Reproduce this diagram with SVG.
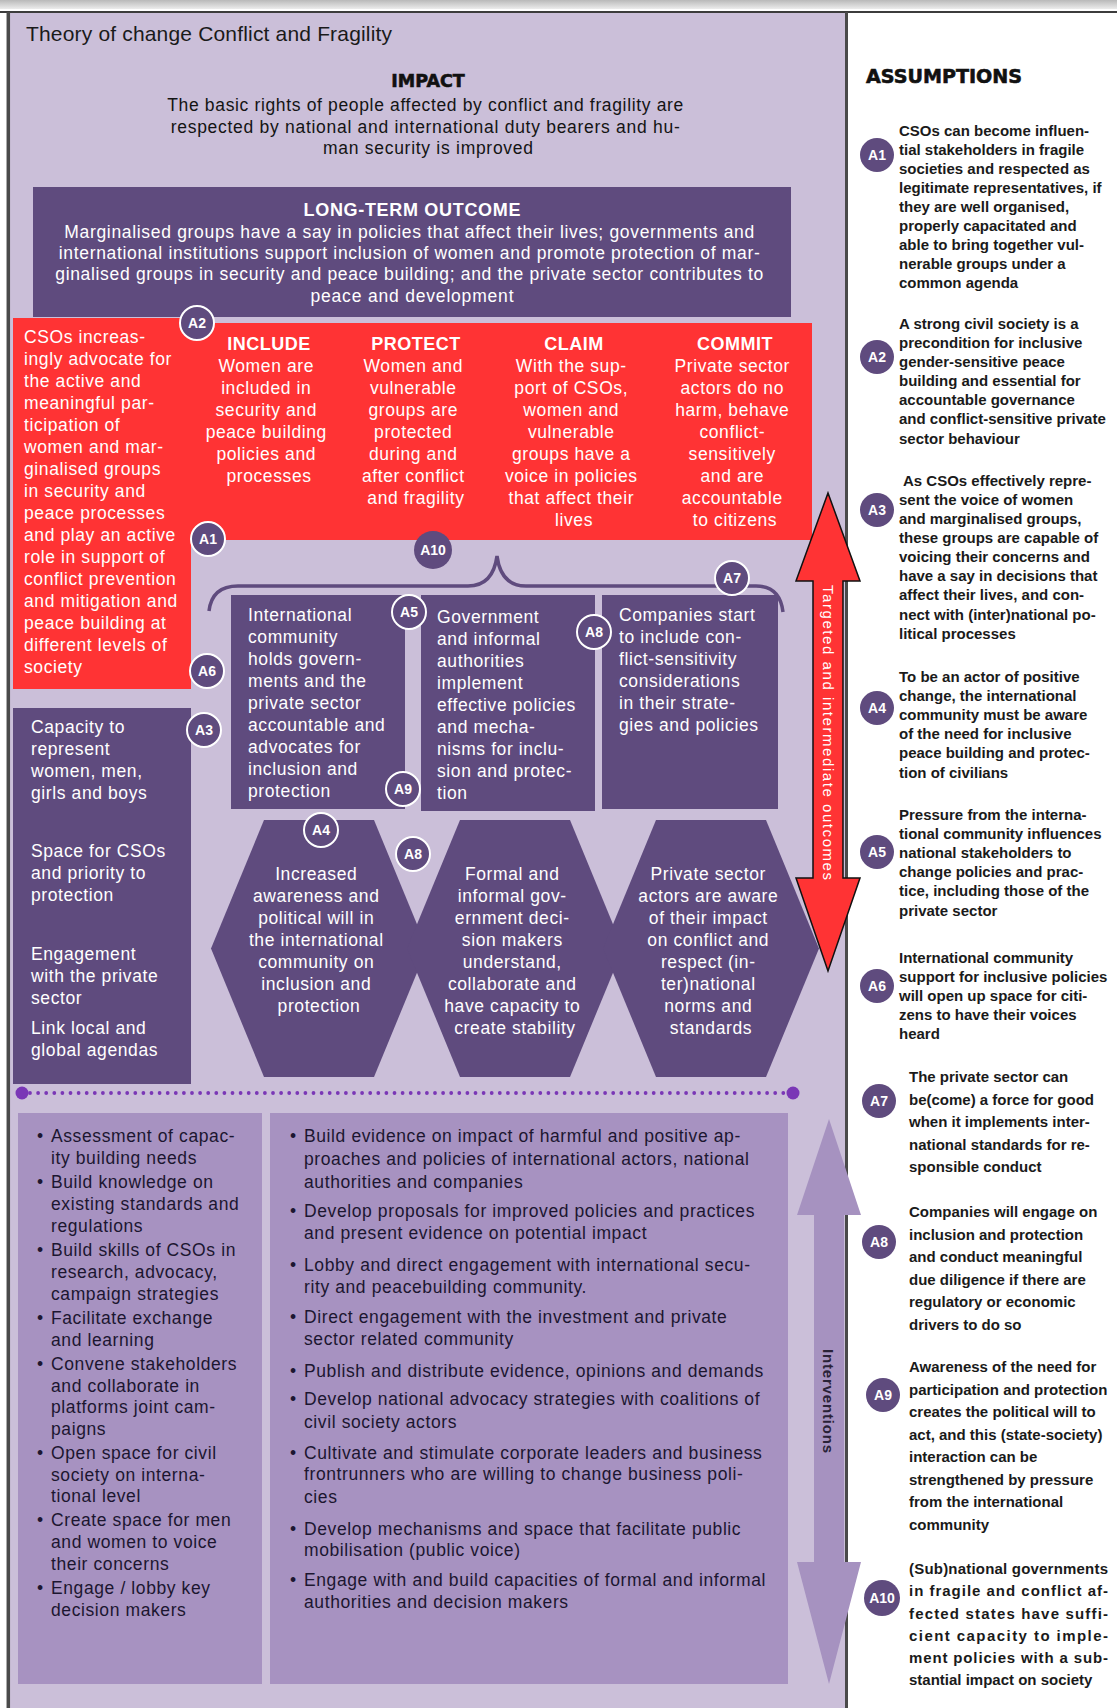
<svg xmlns="http://www.w3.org/2000/svg" width="1117" height="1708" viewBox="0 0 1117 1708">
<defs>
  <linearGradient id="topbar" x1="0" y1="0" x2="0" y2="1">
    <stop offset="0" stop-color="#b9b9b9"/>
    <stop offset="1" stop-color="#ececec"/>
  </linearGradient>
  <style>
    .f{font-family:"Liberation Sans",Arial,Helvetica,sans-serif}
    .body{font-size:17.5px;letter-spacing:0.6px}
    .wt{fill:#ffffff}
    .mid{text-anchor:middle}
    .hd{font-weight:bold;font-size:18px;fill:#ffffff;text-anchor:middle;letter-spacing:0.5px}
    .dk{fill:#141414}
    .asm{font-weight:bold;font-size:15px;fill:#1a1a1a}
    .bul{font-size:17.5px;letter-spacing:0.6px;fill:#1c1630}
    .heavy{font-family:"DejaVu Sans",Verdana,sans-serif;font-weight:bold;fill:#111111;stroke:#111111;stroke-width:0.6}
    .ring{fill:#5f4b7e;stroke:#ffffff;stroke-width:2}
    .dot{fill:#5f4b7e}
    .bl{font-family:"Liberation Sans",Arial,sans-serif;font-weight:bold;font-size:14px;fill:#ffffff;text-anchor:middle}
    .purple{fill:#5f4b7e}
    .light{fill:#a792c1}
  </style>
</defs>

<!-- page frame -->
<rect x="0" y="0" width="1117" height="1708" fill="#ffffff"/>
<rect x="0" y="0" width="1117" height="9" fill="url(#topbar)"/>
<rect x="10" y="13" width="835" height="1695" fill="#cbbfd9"/>
<line x1="0" y1="12" x2="1117" y2="12" stroke="#3c3c3c" stroke-width="2"/>
<line x1="8.3" y1="12" x2="8.3" y2="1708" stroke="#4a4a4a" stroke-width="3.5"/>
<line x1="846.5" y1="12" x2="846.5" y2="1708" stroke="#4a4a4a" stroke-width="3"/>

<text class="f" x="26" y="41" font-size="21" fill="#1a1a1a" textLength="366" lengthAdjust="spacing">Theory of change Conflict and Fragility</text>

<!-- impact -->
<g id="impact">
  <text class="heavy" x="428" y="87" font-size="17.5" text-anchor="middle">IMPACT</text>
  <text class="f dk mid" font-size="17.5">
    <tspan x="428" y="111" textLength="516" lengthAdjust="spacing">The basic rights of people affected by conflict and fragility are</tspan>
    <tspan x="428" y="133" textLength="509" lengthAdjust="spacing">respected by national and international duty bearers and hu-</tspan>
    <tspan x="428" y="154" textLength="210" lengthAdjust="spacing">man security is improved</tspan>
  </text>
</g>

<!-- long-term outcome -->
<g id="long-term-outcome">
  <rect x="33" y="187" width="758" height="130" class="purple"/>
  <text class="f wt mid" x="412" y="216" font-size="18" font-weight="bold" textLength="217" lengthAdjust="spacing">LONG-TERM OUTCOME</text>
  <text class="f wt mid" font-size="17.5">
    <tspan x="412" y="238" textLength="690" lengthAdjust="spacing">Marginalised groups have a say in policies that affect their lives; governments and</tspan>
    <tspan x="412" y="259" textLength="701" lengthAdjust="spacing">international institutions support inclusion of women and promote protection of mar-</tspan>
    <tspan x="412" y="280" textLength="708" lengthAdjust="spacing">ginalised groups in security and peace building; and the private sector contributes to</tspan>
    <tspan x="412" y="302" textLength="203" lengthAdjust="spacing">peace and development</tspan>
  </text>
</g>

<!-- targeted outcomes (red) -->
<g id="outcome-csos">
  <path d="M13,318 H191 V323 H812 V540 H191 V689 H13 Z" fill="#ff3334"/>
  <text class="f body wt">
    <tspan x="24" y="343">CSOs increas-</tspan>
    <tspan x="24" y="365">ingly advocate for</tspan>
    <tspan x="24" y="387">the active and</tspan>
    <tspan x="24" y="409">meaningful par-</tspan>
    <tspan x="24" y="431">ticipation of</tspan>
    <tspan x="24" y="453">women and mar-</tspan>
    <tspan x="24" y="475">ginalised groups</tspan>
    <tspan x="24" y="497">in security and</tspan>
    <tspan x="24" y="519">peace processes</tspan>
    <tspan x="24" y="541">and play an active</tspan>
    <tspan x="24" y="563">role in support of</tspan>
    <tspan x="24" y="585">conflict prevention</tspan>
    <tspan x="24" y="607">and mitigation and</tspan>
    <tspan x="24" y="629">peace building at</tspan>
    <tspan x="24" y="651">different levels of</tspan>
    <tspan x="24" y="673">society</tspan>
  </text>
</g>

<g id="outcome-include">
  <text class="f hd" x="269" y="350">INCLUDE</text>
  <text class="f body wt mid">
    <tspan x="269" y="372">Women are</tspan>
    <tspan x="269" y="394">included in</tspan>
    <tspan x="269" y="416">security and</tspan>
    <tspan x="269" y="438">peace building</tspan>
    <tspan x="269" y="460">policies and</tspan>
    <tspan x="269" y="482">processes</tspan>
  </text>
</g>
<g id="outcome-protect">
  <text class="f hd" x="416" y="350">PROTECT</text>
  <text class="f body wt mid">
    <tspan x="416" y="372">Women and</tspan>
    <tspan x="416" y="394">vulnerable</tspan>
    <tspan x="416" y="416">groups are</tspan>
    <tspan x="416" y="438">protected</tspan>
    <tspan x="416" y="460">during and</tspan>
    <tspan x="416" y="482">after conflict</tspan>
    <tspan x="416" y="504">and fragility</tspan>
  </text>
</g>
<g id="outcome-claim">
  <text class="f hd" x="574" y="350">CLAIM</text>
  <text class="f body wt mid">
    <tspan x="574" y="372">With the sup-</tspan>
    <tspan x="574" y="394">port of CSOs,</tspan>
    <tspan x="574" y="416">women and</tspan>
    <tspan x="574" y="438">vulnerable</tspan>
    <tspan x="574" y="460">groups have a</tspan>
    <tspan x="574" y="482">voice in policies</tspan>
    <tspan x="574" y="504">that affect their</tspan>
    <tspan x="574" y="526">lives</tspan>
  </text>
</g>
<g id="outcome-commit">
  <text class="f hd" x="735" y="350">COMMIT</text>
  <text class="f body wt mid">
    <tspan x="735" y="372">Private sector</tspan>
    <tspan x="735" y="394">actors do no</tspan>
    <tspan x="735" y="416">harm, behave</tspan>
    <tspan x="735" y="438">conflict-</tspan>
    <tspan x="735" y="460">sensitively</tspan>
    <tspan x="735" y="482">and are</tspan>
    <tspan x="735" y="504">accountable</tspan>
    <tspan x="735" y="526">to citizens</tspan>
  </text>
</g>

<!-- intermediate outcomes -->
<g id="int-community">
  <rect x="231" y="595" width="174" height="214" class="purple"/>
  <text class="f body wt">
    <tspan x="248" y="621">International</tspan>
    <tspan x="248" y="643">community</tspan>
    <tspan x="248" y="665">holds govern-</tspan>
    <tspan x="248" y="687">ments and the</tspan>
    <tspan x="248" y="709">private sector</tspan>
    <tspan x="248" y="731">accountable and</tspan>
    <tspan x="248" y="753">advocates for</tspan>
    <tspan x="248" y="775">inclusion and</tspan>
    <tspan x="248" y="797">protection</tspan>
  </text>
</g>
<g id="gov-authorities">
  <rect x="421" y="595" width="174" height="216" class="purple"/>
  <text class="f body wt">
    <tspan x="437" y="623">Government</tspan>
    <tspan x="437" y="645">and informal</tspan>
    <tspan x="437" y="667">authorities</tspan>
    <tspan x="437" y="689">implement</tspan>
    <tspan x="437" y="711">effective policies</tspan>
    <tspan x="437" y="733">and mecha-</tspan>
    <tspan x="437" y="755">nisms for inclu-</tspan>
    <tspan x="437" y="777">sion and protec-</tspan>
    <tspan x="437" y="799">tion</tspan>
  </text>
</g>
<g id="companies">
  <rect x="602" y="595" width="176" height="214" class="purple"/>
  <text class="f body wt">
    <tspan x="619" y="621">Companies start</tspan>
    <tspan x="619" y="643">to include con-</tspan>
    <tspan x="619" y="665">flict-sensitivity</tspan>
    <tspan x="619" y="687">considerations</tspan>
    <tspan x="619" y="709">in their strate-</tspan>
    <tspan x="619" y="731">gies and policies</tspan>
  </text>
</g>
<g id="capacities">
  <rect x="13" y="708" width="178" height="376" class="purple"/>
  <text class="f body wt">
    <tspan x="31" y="733">Capacity to</tspan>
    <tspan x="31" y="755">represent</tspan>
    <tspan x="31" y="777">women, men,</tspan>
    <tspan x="31" y="799">girls and boys</tspan>
    <tspan x="31" y="857">Space for CSOs</tspan>
    <tspan x="31" y="879">and priority to</tspan>
    <tspan x="31" y="901">protection</tspan>
    <tspan x="31" y="960">Engagement</tspan>
    <tspan x="31" y="982">with the private</tspan>
    <tspan x="31" y="1004">sector</tspan>
    <tspan x="31" y="1034">Link local and</tspan>
    <tspan x="31" y="1056">global agendas</tspan>
  </text>
</g>

<!-- short-term outcomes (hexagons) -->
<g id="hex-awareness">
  <polygon points="264,820 374,820 427,948.5 374,1077 264,1077 211,948.5" class="purple"/>
  <text class="f body wt mid">
    <tspan x="319" y="880">Increased</tspan>
    <tspan x="319" y="902">awareness and</tspan>
    <tspan x="319" y="924">political will in</tspan>
    <tspan x="319" y="946">the international</tspan>
    <tspan x="319" y="968">community on</tspan>
    <tspan x="319" y="990">inclusion and</tspan>
    <tspan x="319" y="1012">protection</tspan>
  </text>
</g>
<g id="hex-government">
  <polygon points="460,820 570,820 623,948.5 570,1077 460,1077 407,948.5" class="purple"/>
  <text class="f body wt mid">
    <tspan x="515" y="880">Formal and</tspan>
    <tspan x="515" y="902">informal gov-</tspan>
    <tspan x="515" y="924">ernment deci-</tspan>
    <tspan x="515" y="946">sion makers</tspan>
    <tspan x="515" y="968">understand,</tspan>
    <tspan x="515" y="990">collaborate and</tspan>
    <tspan x="515" y="1012">have capacity to</tspan>
    <tspan x="515" y="1034">create stability</tspan>
  </text>
</g>
<g id="hex-private-sector">
  <polygon points="656,820 766,820 819,948.5 766,1077 656,1077 603,948.5" class="purple"/>
  <text class="f body wt mid">
    <tspan x="711" y="880">Private sector</tspan>
    <tspan x="711" y="902">actors are aware</tspan>
    <tspan x="711" y="924">of their impact</tspan>
    <tspan x="711" y="946">on conflict and</tspan>
    <tspan x="711" y="968">respect (in-</tspan>
    <tspan x="711" y="990">ter)national</tspan>
    <tspan x="711" y="1012">norms and</tspan>
    <tspan x="711" y="1034">standards</tspan>
  </text>
</g>

<!-- interventions -->
<g id="interventions-capacity">
  <rect x="18" y="1113" width="244" height="571" class="light"/>
  <text class="f bul">
    <tspan x="37" y="1142">•</tspan><tspan x="51" y="1142">Assessment of capac-</tspan>
    <tspan x="51" y="1164">ity building needs</tspan>
    <tspan x="37" y="1188">•</tspan><tspan x="51" y="1188">Build knowledge on</tspan>
    <tspan x="51" y="1210">existing standards and</tspan>
    <tspan x="51" y="1232">regulations</tspan>
    <tspan x="37" y="1256">•</tspan><tspan x="51" y="1256">Build skills of CSOs in</tspan>
    <tspan x="51" y="1278">research, advocacy,</tspan>
    <tspan x="51" y="1300">campaign strategies</tspan>
    <tspan x="37" y="1324">•</tspan><tspan x="51" y="1324">Facilitate exchange</tspan>
    <tspan x="51" y="1346">and learning</tspan>
    <tspan x="37" y="1370">•</tspan><tspan x="51" y="1370">Convene stakeholders</tspan>
    <tspan x="51" y="1392">and collaborate in</tspan>
    <tspan x="51" y="1413">platforms joint cam-</tspan>
    <tspan x="51" y="1435">paigns</tspan>
    <tspan x="37" y="1459">•</tspan><tspan x="51" y="1459">Open space for civil</tspan>
    <tspan x="51" y="1481">society on interna-</tspan>
    <tspan x="51" y="1502">tional level</tspan>
    <tspan x="37" y="1526">•</tspan><tspan x="51" y="1526">Create space for men</tspan>
    <tspan x="51" y="1548">and women to voice</tspan>
    <tspan x="51" y="1570">their concerns</tspan>
    <tspan x="37" y="1594">•</tspan><tspan x="51" y="1594">Engage / lobby key</tspan>
    <tspan x="51" y="1616">decision makers</tspan>
  </text>
</g>
<g id="interventions-advocacy">
  <rect x="270" y="1113" width="518" height="571" class="light"/>
  <text class="f bul">
    <tspan x="290" y="1142">•</tspan><tspan x="304" y="1142">Build evidence on impact of harmful and positive ap-</tspan>
    <tspan x="304" y="1165">proaches and policies of international actors, national</tspan>
    <tspan x="304" y="1188">authorities and companies</tspan>
    <tspan x="290" y="1217">•</tspan><tspan x="304" y="1217">Develop proposals for improved policies and practices</tspan>
    <tspan x="304" y="1239">and present evidence on potential impact</tspan>
    <tspan x="290" y="1271">•</tspan><tspan x="304" y="1271">Lobby and direct engagement with international secu-</tspan>
    <tspan x="304" y="1293">rity and peacebuilding community.</tspan>
    <tspan x="290" y="1323">•</tspan><tspan x="304" y="1323">Direct engagement with the investment and private</tspan>
    <tspan x="304" y="1345">sector related community</tspan>
    <tspan x="290" y="1377">•</tspan><tspan x="304" y="1377">Publish and distribute evidence, opinions and demands</tspan>
    <tspan x="290" y="1405">•</tspan><tspan x="304" y="1405">Develop national advocacy strategies with coalitions of</tspan>
    <tspan x="304" y="1428">civil society actors</tspan>
    <tspan x="290" y="1459">•</tspan><tspan x="304" y="1459">Cultivate and stimulate corporate leaders and business</tspan>
    <tspan x="304" y="1480">frontrunners who are willing to change business poli-</tspan>
    <tspan x="304" y="1503">cies</tspan>
    <tspan x="290" y="1535">•</tspan><tspan x="304" y="1535">Develop mechanisms and space that facilitate public</tspan>
    <tspan x="304" y="1556">mobilisation (public voice)</tspan>
    <tspan x="290" y="1586">•</tspan><tspan x="304" y="1586">Engage with and build capacities of formal and informal</tspan>
    <tspan x="304" y="1608">authorities and decision makers</tspan>
  </text>
</g>

<!-- connectors: brace, axis arrows, divider -->
<g id="connectors">
  <path d="M209,611 Q212,586 238,586 H468 Q493,586 497,556 Q501,586 526,586 H756 Q780,586 783,612" fill="none" stroke="#5f4b7e" stroke-width="3.5"/>
  <line x1="30" y1="1093" x2="786" y2="1093" stroke="#7a37b6" stroke-width="3.8" stroke-linecap="round" stroke-dasharray="0 8.1"/>
  <circle cx="22" cy="1093" r="6.5" fill="#7a37b6"/>
  <circle cx="793" cy="1093" r="6.5" fill="#7a37b6"/>
  <polygon points="828,493 860,581 843,581 843,878 860,878 828,971 796,878 813,878 813,581 796,581" fill="#ff3334" stroke="#111111" stroke-width="1.5" stroke-linejoin="miter"/>
  <text class="f" transform="translate(823,585) rotate(90)" font-size="15" fill="#ffffff" textLength="295" lengthAdjust="spacing">Targeted and intermediate  outcomes</text>
  <polygon points="829,1119 861,1215 844,1215 844,1562 861,1562 829,1684 797,1562 814,1562 814,1215 797,1215" fill="#a692c0"/>
  <text class="f" transform="translate(823,1349) rotate(90)" font-size="15" font-weight="bold" fill="#2a2238" textLength="104" lengthAdjust="spacing">Interventions</text>
</g>

<!-- assumption markers on the diagram -->
<g id="markers">
  <g id="m-a2"><circle cx="197" cy="323" r="17" class="ring"/><text class="bl" x="197" y="328">A2</text></g>
  <g id="m-a1"><circle cx="208" cy="539" r="17" class="ring"/><text class="bl" x="208" y="544">A1</text></g>
  <g id="m-a10"><circle cx="433" cy="550" r="19" class="dot"/><text class="bl" x="433" y="555">A10</text></g>
  <g id="m-a7"><circle cx="732" cy="578" r="17" class="ring"/><text class="bl" x="732" y="583">A7</text></g>
  <g id="m-a5"><circle cx="409" cy="612" r="17" class="ring"/><text class="bl" x="409" y="617">A5</text></g>
  <g id="m-a8"><circle cx="594" cy="632" r="17" class="ring"/><text class="bl" x="594" y="637">A8</text></g>
  <g id="m-a6"><circle cx="207" cy="671" r="17" class="ring"/><text class="bl" x="207" y="676">A6</text></g>
  <g id="m-a3"><circle cx="204" cy="730" r="17" class="ring"/><text class="bl" x="204" y="735">A3</text></g>
  <g id="m-a9"><circle cx="403" cy="789" r="17" class="ring"/><text class="bl" x="403" y="794">A9</text></g>
  <g id="m-a4"><circle cx="321" cy="830" r="17" class="ring"/><text class="bl" x="321" y="835">A4</text></g>
  <g id="m-a8b"><circle cx="413" cy="854" r="17" class="ring"/><text class="bl" x="413" y="859">A8</text></g>
</g>

<!-- assumptions column -->
<g id="assumptions">
  <text class="heavy" x="866" y="83" font-size="19" textLength="156" lengthAdjust="spacingAndGlyphs">ASSUMPTIONS</text>

  <g id="as-a1">
    <circle cx="877" cy="155" r="17" class="dot"/><text class="bl" x="877" y="160">A1</text>
    <text class="f asm">
      <tspan x="899" y="136">CSOs can become influen-</tspan>
      <tspan x="899" y="155">tial stakeholders in fragile</tspan>
      <tspan x="899" y="174">societies and respected as</tspan>
      <tspan x="899" y="193">legitimate representatives, if</tspan>
      <tspan x="899" y="212">they are well organised,</tspan>
      <tspan x="899" y="231">properly capacitated and</tspan>
      <tspan x="899" y="250">able to bring together vul-</tspan>
      <tspan x="899" y="269">nerable groups under a</tspan>
      <tspan x="899" y="288">common agenda</tspan>
    </text>
  </g>
  <g id="as-a2">
    <circle cx="877" cy="357" r="17" class="dot"/><text class="bl" x="877" y="362">A2</text>
    <text class="f asm">
      <tspan x="899" y="329">A strong civil society is a</tspan>
      <tspan x="899" y="348">precondition for inclusive</tspan>
      <tspan x="899" y="367">gender-sensitive peace</tspan>
      <tspan x="899" y="386">building and essential for</tspan>
      <tspan x="899" y="405">accountable governance</tspan>
      <tspan x="899" y="424">and conflict-sensitive private</tspan>
      <tspan x="899" y="444">sector behaviour</tspan>
    </text>
  </g>
  <g id="as-a3">
    <circle cx="877" cy="510" r="17" class="dot"/><text class="bl" x="877" y="515">A3</text>
    <text class="f asm">
      <tspan x="903" y="486">As CSOs effectively repre-</tspan>
      <tspan x="899" y="505">sent the voice of women</tspan>
      <tspan x="899" y="524">and marginalised groups,</tspan>
      <tspan x="899" y="543">these groups are capable of</tspan>
      <tspan x="899" y="562">voicing their concerns and</tspan>
      <tspan x="899" y="581">have a say in decisions that</tspan>
      <tspan x="899" y="600">affect their lives, and con-</tspan>
      <tspan x="899" y="620">nect with (inter)national po-</tspan>
      <tspan x="899" y="639">litical processes</tspan>
    </text>
  </g>
  <g id="as-a4">
    <circle cx="877" cy="708" r="17" class="dot"/><text class="bl" x="877" y="713">A4</text>
    <text class="f asm">
      <tspan x="899" y="682">To be an actor of positive</tspan>
      <tspan x="899" y="701">change, the international</tspan>
      <tspan x="899" y="720">community must be aware</tspan>
      <tspan x="899" y="739">of the need for inclusive</tspan>
      <tspan x="899" y="758">peace building and protec-</tspan>
      <tspan x="899" y="778">tion of civilians</tspan>
    </text>
  </g>
  <g id="as-a5">
    <circle cx="877" cy="852" r="17" class="dot"/><text class="bl" x="877" y="857">A5</text>
    <text class="f asm">
      <tspan x="899" y="820">Pressure from the interna-</tspan>
      <tspan x="899" y="839">tional community influences</tspan>
      <tspan x="899" y="858">national stakeholders to</tspan>
      <tspan x="899" y="877">change policies and prac-</tspan>
      <tspan x="899" y="896">tice, including those of the</tspan>
      <tspan x="899" y="916">private sector</tspan>
    </text>
  </g>
  <g id="as-a6">
    <circle cx="877" cy="986" r="17" class="dot"/><text class="bl" x="877" y="991">A6</text>
    <text class="f asm">
      <tspan x="899" y="963">International community</tspan>
      <tspan x="899" y="982">support for inclusive policies</tspan>
      <tspan x="899" y="1001">will open up space for citi-</tspan>
      <tspan x="899" y="1020">zens to have their voices</tspan>
      <tspan x="899" y="1039">heard</tspan>
    </text>
  </g>
  <g id="as-a7">
    <circle cx="879" cy="1101" r="17" class="dot"/><text class="bl" x="879" y="1106">A7</text>
    <text class="f asm">
      <tspan x="909" y="1082">The private sector can</tspan>
      <tspan x="909" y="1105">be(come) a force for good</tspan>
      <tspan x="909" y="1127">when it implements inter-</tspan>
      <tspan x="909" y="1150">national standards for re-</tspan>
      <tspan x="909" y="1172">sponsible conduct</tspan>
    </text>
  </g>
  <g id="as-a8">
    <circle cx="879" cy="1242" r="17" class="dot"/><text class="bl" x="879" y="1247">A8</text>
    <text class="f asm">
      <tspan x="909" y="1217">Companies  will engage on</tspan>
      <tspan x="909" y="1240">inclusion and protection</tspan>
      <tspan x="909" y="1262">and conduct meaningful</tspan>
      <tspan x="909" y="1285">due diligence if there are</tspan>
      <tspan x="909" y="1307">regulatory or economic</tspan>
      <tspan x="909" y="1330">drivers to do so</tspan>
    </text>
  </g>
  <g id="as-a9">
    <circle cx="883" cy="1395" r="17" class="dot"/><text class="bl" x="883" y="1400">A9</text>
    <text class="f asm">
      <tspan x="909" y="1372">Awareness of the need for</tspan>
      <tspan x="909" y="1395">participation and protection</tspan>
      <tspan x="909" y="1417">creates the political will to</tspan>
      <tspan x="909" y="1440">act, and this (state-society)</tspan>
      <tspan x="909" y="1462">interaction can be</tspan>
      <tspan x="909" y="1485">strengthened by pressure</tspan>
      <tspan x="909" y="1507">from the international</tspan>
      <tspan x="909" y="1530">community</tspan>
    </text>
  </g>
  <g id="as-a10">
    <circle cx="882" cy="1598" r="18" class="dot"/><text class="bl" x="882" y="1603">A10</text>
    <text class="f asm">
      <tspan x="909" y="1574" textLength="199" lengthAdjust="spacing">(Sub)national governments</tspan>
      <tspan x="909" y="1596" textLength="199" lengthAdjust="spacing">in fragile and conflict af-</tspan>
      <tspan x="909" y="1619" textLength="199" lengthAdjust="spacing">fected states have suffi-</tspan>
      <tspan x="909" y="1641" textLength="199" lengthAdjust="spacing">cient capacity to imple-</tspan>
      <tspan x="909" y="1663" textLength="199" lengthAdjust="spacing">ment policies with a sub-</tspan>
      <tspan x="909" y="1685">stantial impact on society</tspan>
    </text>
  </g>
</g>
</svg>
